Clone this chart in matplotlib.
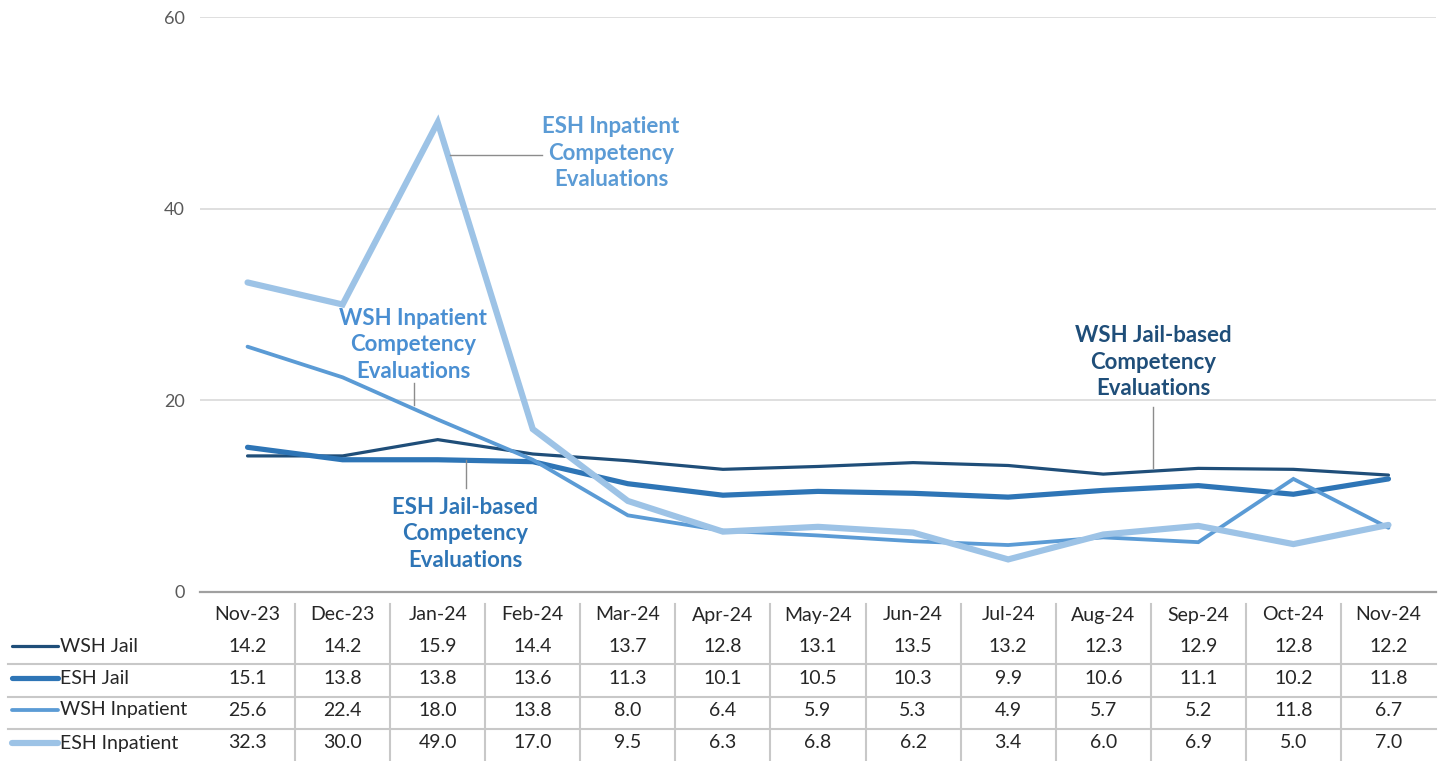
import matplotlib
matplotlib.use("Agg")
import matplotlib.pyplot as plt
from matplotlib.lines import Line2D

plt.rcParams['font.family'] = ['Lato', 'DejaVu Sans']

months = ["Nov-23", "Dec-23", "Jan-24", "Feb-24", "Mar-24", "Apr-24", "May-24",
          "Jun-24", "Jul-24", "Aug-24", "Sep-24", "Oct-24", "Nov-24"]
wsh_jail = [14.2, 14.2, 15.9, 14.4, 13.7, 12.8, 13.1, 13.5, 13.2, 12.3, 12.9, 12.8, 12.2]
esh_jail = [15.1, 13.8, 13.8, 13.6, 11.3, 10.1, 10.5, 10.3, 9.9, 10.6, 11.1, 10.2, 11.8]
wsh_inpatient = [25.6, 22.4, 18.0, 13.8, 8.0, 6.4, 5.9, 5.3, 4.9, 5.7, 5.2, 11.8, 6.7]
esh_inpatient = [32.3, 30.0, 49.0, 17.0, 9.5, 6.3, 6.8, 6.2, 3.4, 6.0, 6.9, 5.0, 7.0]

series_names = ["WSH Jail", "ESH Jail", "WSH Inpatient", "ESH Inpatient"]
series_vals = [wsh_jail, esh_jail, wsh_inpatient, esh_inpatient]
colors = ["#1f4e79", "#2e75b6", "#5b9bd5", "#9dc3e6"]
widths_px = [3.2, 5.2, 3.8, 6.2]
yticks = [0, 20, 40, 60]

W, H = 1442, 761
fig = plt.figure(figsize=(W / 100, H / 100), dpi=100)

def fx(px):
    return px / W

def fy(py):
    return 1 - py / H

ax_l, ax_r, ax_t, ax_b = 200, 1436, 17, 592
ax = fig.add_axes([fx(ax_l), fy(ax_b), fx(ax_r - ax_l), (ax_b - ax_t) / H])
n = len(months)
x = list(range(n))
for vals, c, w in zip(series_vals, colors, widths_px):
    ax.plot(x, vals, color=c, lw=w * 0.72, solid_joinstyle='miter', solid_capstyle='round', zorder=3)

ax.set_xlim(-0.5, n - 0.5)
ax.set_ylim(0, 60)
ax.set_yticks(yticks)
ax.set_yticklabels([str(t) for t in yticks], color="#595959", fontsize=13)
ax.tick_params(axis='y', length=0, pad=11)
ax.set_xticks([])
for s in ['top', 'right', 'left']:
    ax.spines[s].set_visible(False)
ax.spines['bottom'].set_color('#a0a0a0')
ax.spines['bottom'].set_linewidth(1.6)
for t in yticks[1:]:
    ax.axhline(t, color='#d9d9d9', lw=1.2, zorder=1)

# Data table below
col_w = (ax_r - ax_l) / n
header_y = 615
row_ys = [646, 678, 710, 743]
sep_ys = [664, 697, 729]
for i, m in enumerate(months):
    cx = ax_l + col_w * (i + 0.5)
    fig.text(fx(cx), fy(header_y), m, ha='center', va='center', fontsize=14, color='#262626')
    for r, vals in enumerate(series_vals):
        fig.text(fx(cx), fy(row_ys[r]), f"{vals[i]:.1f}", ha='center', va='center',
                 fontsize=14, color='#262626')
for k in range(1, n):
    xx = ax_l + col_w * k
    fig.add_artist(Line2D([fx(xx), fx(xx)], [fy(604), fy(761)], color='#c8c8c8', lw=1.5))
for sy in sep_ys:
    fig.add_artist(Line2D([fx(8), fx(ax_r)], [fy(sy), fy(sy)], color='#c8c8c8', lw=1.5))
for r, (name, c, w) in enumerate(zip(series_names, colors, widths_px)):
    yy = fy(row_ys[r])
    fig.add_artist(Line2D([fx(12), fx(58)], [yy, yy], color=c, lw=w * 0.72, solid_capstyle='round'))
    fig.text(fx(60), yy, name, ha='left', va='center', fontsize=14, color='#262626')

# Series labels with leader lines
labels = [
    ("ESH Inpatient\nCompetency\nEvaluations", 611, 153, "#5b9bd5"),
    ("WSH Inpatient\nCompetency\nEvaluations", 413, 345, "#4a8fd2"),
    ("ESH Jail-based\nCompetency\nEvaluations", 465, 534, "#2e75b6"),
    ("WSH Jail-based\nCompetency\nEvaluations", 1153, 362, "#1f4e79"),
]
for txt, cx, cy, c in labels:
    fig.text(fx(cx), fy(cy), txt, ha='center', va='center', fontsize=16, fontweight='bold',
             color=c, linespacing=1.33, multialignment='center')
leaders = [((450, 155), (542, 155)), ((414, 383), (414, 405)),
           ((466, 460), (466, 488)), ((1153, 407), (1153, 468))]
for (x0, y0), (x1, y1) in leaders:
    fig.add_artist(Line2D([fx(x0), fx(x1)], [fy(y0), fy(y1)], color='#8c8c8c', lw=1.0))

fig.savefig("out.png", dpi=100)
